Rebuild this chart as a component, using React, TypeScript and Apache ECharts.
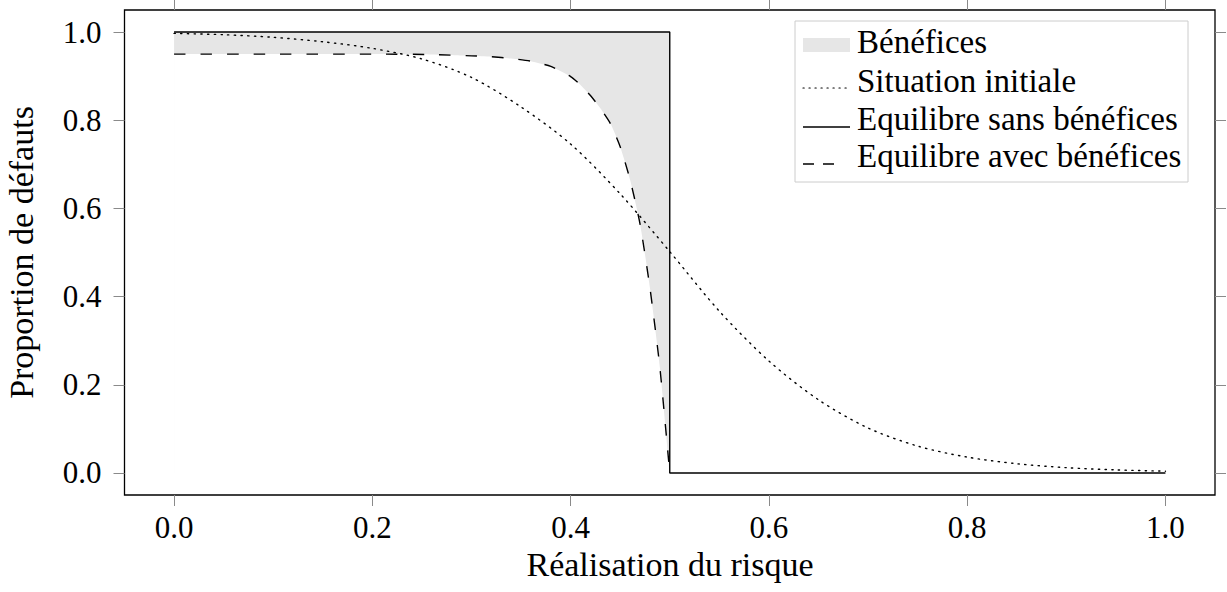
import React, { useEffect, useRef } from "react";
import * as echarts from "echarts";

// Tick values shown on both axes
const tickValues = [0, 0.2, 0.4, 0.6, 0.8, 1.0];

// Situation initiale (dotted)
const xInit = [0, 0.05, 0.1, 0.15, 0.2, 0.25, 0.3, 0.35, 0.4, 0.45, 0.5, 0.55, 0.6, 0.65, 0.7, 0.75, 0.8, 0.85, 0.9, 0.95, 1.0];
const yInit = [0.997, 0.994, 0.988, 0.978, 0.963, 0.939, 0.897, 0.83, 0.746, 0.633, 0.502, 0.367, 0.254, 0.166, 0.102, 0.061, 0.036, 0.021, 0.012, 0.007, 0.004];

// Equilibre sans bénéfices (solid)
const xSans = [0, 0.5, 0.5, 1.0];
const ySans = [1, 1, 0, 0];

// Equilibre avec bénéfices (dashed)
const xAvec = [0, 0.1, 0.2, 0.26, 0.3, 0.32, 0.34, 0.36, 0.38, 0.4, 0.41, 0.42, 0.43, 0.44, 0.45, 0.46, 0.47, 0.48, 0.49, 0.5];
const yAvec = [0.95, 0.95, 0.95, 0.949, 0.946, 0.944, 0.94, 0.934, 0.922, 0.899, 0.88, 0.856, 0.827, 0.793, 0.74, 0.665, 0.565, 0.42, 0.24, 0.0];

// "Bénéfices" area: between the solid line (top) and the dashed line, over x in [0, 0.5]
const xBenef = [0, 0.5];
const yBenefTop = [1, 1];

const legendLabels = ["Bénéfices", "Situation initiale", "Equilibre sans bénéfices", "Equilibre avec bénéfices"];

const FONT = "'Liberation Serif', 'Times New Roman', serif";
const TITLE_SIZE = 34;
const LEGEND_SIZE = 33;

export default function App() {
  const ref = useRef<HTMLDivElement>(null);

  useEffect(() => {
    if (!ref.current) return;
    const chart = echarts.init(ref.current, undefined, { renderer: "svg" });

    const pts = (xs: number[], ys: number[]) => xs.map((x, i) => [x, ys[i]]);

    const tickStyle = { show: true, inside: false, length: 11, lineStyle: { color: "#8a8a8a", width: 1 }, customValues: tickValues };
    const baseAxis = {
      type: "value" as const,
      min: -0.05,
      max: 1.05,
      splitLine: { show: false },
      axisLine: { show: false, onZero: false },
      axisTick: tickStyle,
    };
    const labelStyle = {
      fontFamily: FONT,
      fontSize: 31,
      color: "#000",
      customValues: tickValues,
      formatter: (v: number) => v.toFixed(1),
    };

    const legendX = 803;
    const textX = 857;
    const rowY = [41.6, 80.6, 118.9, 155.6];

    chart.setOption({
      animation: false,
      grid: {
        left: 124.5,
        right: 12,
        top: 10,
        bottom: 97,
        show: true,
        borderColor: "#000",
        borderWidth: 1.3,
        backgroundColor: "transparent",
        outerBoundsMode: "none",
      },
      xAxis: [
        { ...baseAxis, position: "bottom", axisLabel: { ...labelStyle, margin: 17 } },
        { ...baseAxis, position: "top", axisLabel: { show: false } },
      ],
      yAxis: [
        { ...baseAxis, position: "left", axisLabel: { ...labelStyle, margin: 23 } },
        { ...baseAxis, position: "right", axisLabel: { show: false } },
      ],
      series: [
        {
          name: legendLabels[0],
          type: "line",
          data: pts(xBenef, yBenefTop),
          showSymbol: false,
          symbol: "none",
          silent: true,
          lineStyle: { width: 0, opacity: 0 },
          areaStyle: { color: "#e6e6e6", opacity: 1, origin: 0 },
          z: 1,
        },
        {
          name: "mask",
          type: "line",
          data: pts(xAvec, yAvec),
          smooth: 0.2,
          showSymbol: false,
          symbol: "none",
          silent: true,
          lineStyle: { width: 0, opacity: 0 },
          areaStyle: { color: "#ffffff", opacity: 1, origin: 0 },
          z: 2,
        },
        {
          name: legendLabels[1],
          type: "line",
          data: pts(xInit, yInit),
          smooth: 0.3,
          showSymbol: false,
          symbol: "none",
          lineStyle: { color: "#000", width: 1.4, type: [1.3, 5.4], cap: "round" },
          z: 3,
        },
        {
          name: legendLabels[2],
          type: "line",
          data: pts(xSans, ySans),
          showSymbol: false,
          symbol: "none",
          lineStyle: { color: "#000", width: 1.4, type: "solid" },
          z: 4,
        },
        {
          name: legendLabels[3],
          type: "line",
          data: pts(xAvec, yAvec),
          smooth: 0.2,
          showSymbol: false,
          symbol: "none",
          lineStyle: { color: "#000", width: 1.4, type: [11.5, 15] },
          z: 3,
        },
      ],
      graphic: [
        {
          type: "text",
          x: 670,
          y: 547.5,
          style: { text: "Réalisation du risque", font: `${TITLE_SIZE}px ${FONT}`, fill: "#000", textAlign: "center", textVerticalAlign: "top" },
        },
        {
          type: "text",
          x: 21.5,
          y: 252.5,
          rotation: Math.PI / 2,
          style: { text: "Proportion de défauts", font: `${TITLE_SIZE}px ${FONT}`, fill: "#000", textAlign: "center", textVerticalAlign: "middle" },
        },
        {
          type: "group",
          z: 100,
          children: [
            { type: "rect", shape: { x: 795, y: 21, width: 393, height: 161 }, style: { fill: "#fff", stroke: "#cccccc", lineWidth: 1 } },
            { type: "rect", shape: { x: legendX, y: 38, width: 47, height: 14 }, style: { fill: "#e6e6e6" } },
            { type: "line", shape: { x1: legendX, y1: 88, x2: 850, y2: 88 }, style: { stroke: "#000", lineWidth: 1.2, lineDash: [1.2, 4.8], lineCap: "round" } },
            { type: "line", shape: { x1: legendX, y1: 127, x2: 850, y2: 127 }, style: { stroke: "#000", lineWidth: 1.4 } },
            { type: "line", shape: { x1: legendX, y1: 164, x2: 834, y2: 164 }, style: { stroke: "#000", lineWidth: 1.4, lineDash: [11, 9] } },
            ...legendLabels.map((t, i) => ({
              type: "text",
              x: textX,
              y: rowY[i],
              style: { text: t, font: `${LEGEND_SIZE}px ${FONT}`, fill: "#000", textAlign: "left", textVerticalAlign: "middle" },
            })),
          ],
        },
      ],
    });

    return () => chart.dispose();
  }, []);

  return <div ref={ref} style={{ position: "absolute", left: 0, top: 0, width: 1227, height: 592 }} />;
}
